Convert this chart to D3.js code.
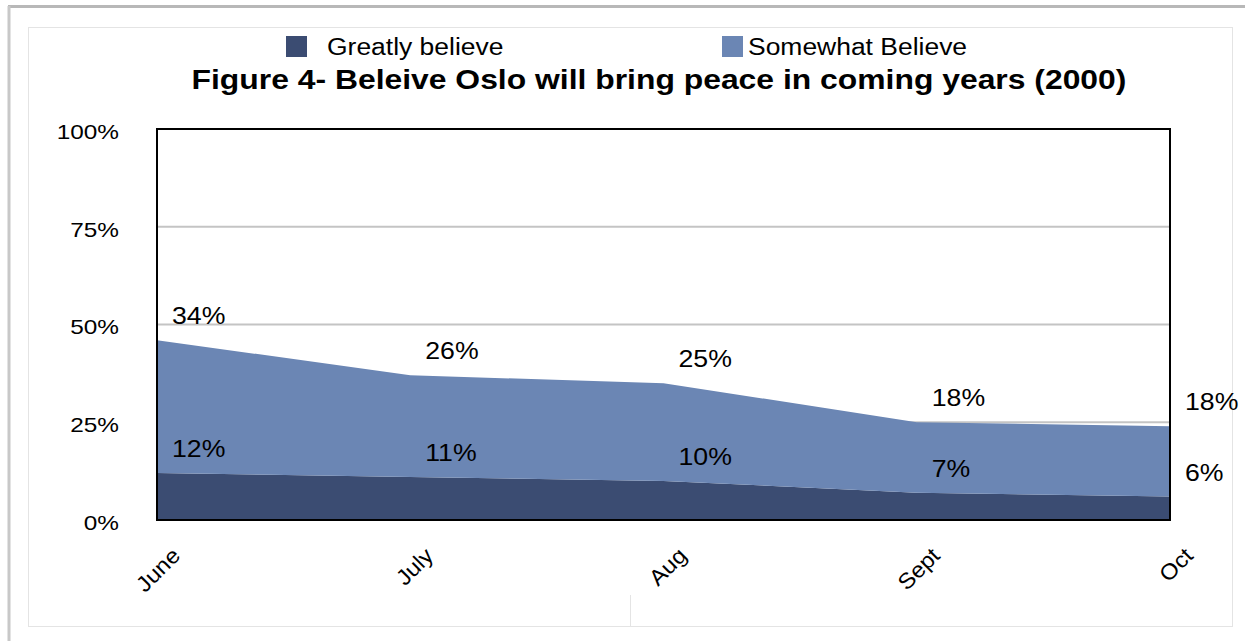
<!DOCTYPE html>
<html>
<head>
<meta charset="utf-8">
<script src="https://cdn.jsdelivr.net/npm/d3@7"></script>
<style>
  body { margin: 0; background: #fff; }
  svg { display: block; font-family: "Liberation Sans", Arial, Helvetica, sans-serif; }
</style>
</head>
<body>
<script>
// data
var months = ["June", "July", "Aug", "Sept", "Oct"];
var greatly = [12, 11, 10, 7, 6];
var somewhat = [34, 26, 25, 18, 18];
var yTicks = [0, 25, 50, 75, 100];
var seriesNames = ["Greatly believe", "Somewhat Believe"];
var colors = ["#3b4c72", "#6b86b4"];

var W = 1245, H = 641;
var svg = d3.select("body").append("svg").attr("width", W).attr("height", H);

// the source picture is a little wider than tall, so stretch text sideways
function stretch(sel, k) {
  sel.each(function() {
    var len = this.getComputedTextLength();
    d3.select(this).attr("textLength", len * k).attr("lengthAdjust", "spacingAndGlyphs");
  });
}

// page frame / shadow
svg.append("line").attr("x1", 8).attr("x2", W).attr("y1", 6.5).attr("y2", 6.5)
  .attr("stroke", "#b8b8b8").attr("stroke-width", 3);
svg.append("line").attr("x1", 9).attr("x2", 9).attr("y1", 6).attr("y2", H)
  .attr("stroke", "#c8c8c8").attr("stroke-width", 3);
svg.append("rect").attr("x", 28.5).attr("y", 27.5).attr("width", 1204).attr("height", 599)
  .attr("fill", "#fff").attr("stroke", "#e4e4e4").attr("stroke-width", 1);
svg.append("line").attr("x1", 630.5).attr("x2", 630.5).attr("y1", 595).attr("y2", 627)
  .attr("stroke", "#e4e4e4");

var plotL = 157, plotR = 1170, plotT = 129, plotB = 520;

var x = d3.scalePoint().domain(months).range([plotL, plotR]);
var y = d3.scaleLinear().domain([0, 100]).range([plotB, plotT]);

var rows = months.map(function(m, i) {
  return { month: m, greatly: greatly[i], somewhat: somewhat[i] };
});
var stack = d3.stack().keys(["greatly", "somewhat"])(rows);

// gridlines
svg.append("g").selectAll("line").data(yTicks.filter(function(t) { return t > 0 && t < 100; }))
  .join("line")
  .attr("x1", plotL).attr("x2", plotR)
  .attr("y1", function(d) { return y(d); }).attr("y2", function(d) { return y(d); })
  .attr("stroke", "#c4c4c4").attr("stroke-width", 2);

// areas
var area = d3.area()
  .x(function(d) { return x(d.data.month); })
  .y0(function(d) { return y(d[0]); })
  .y1(function(d) { return y(d[1]); });

svg.append("g").selectAll("path").data(stack).join("path")
  .attr("d", area)
  .attr("fill", function(d, i) { return colors[i]; });

// plot border
svg.append("rect").attr("x", plotL).attr("y", plotT)
  .attr("width", plotR - plotL).attr("height", plotB - plotT)
  .attr("fill", "none").attr("stroke", "#000").attr("stroke-width", 2);

// y axis labels
var yAxis = d3.axisLeft(y).tickValues(yTicks).tickSize(0).tickPadding(38)
  .tickFormat(function(d) { return d + "%"; });
var gy = svg.append("g").attr("transform", "translate(" + plotL + ",0)").call(yAxis);
gy.select(".domain").remove();
gy.selectAll("text").attr("font-size", 21).attr("fill", "#000")
  .attr("font-family", "Liberation Sans, Arial, sans-serif").attr("dy", "0.45em")
  .call(stretch, 1.16);

// x axis labels
var xAxis = d3.axisBottom(x).tickSize(0).tickPadding(0);
var gx = svg.append("g").attr("transform", "translate(0," + plotB + ")").call(xAxis);
gx.select(".domain").remove();
gx.selectAll("text")
  .attr("font-size", 22).attr("fill", "#000")
  .attr("font-family", "Liberation Sans, Arial, sans-serif")
  .attr("text-anchor", "end")
  .attr("y", 0).attr("dy", 0)
  .attr("transform", "translate(24,37) rotate(-45)")
  .call(stretch, 1.08);

// data labels
stack.forEach(function(layer, li) {
  var vals = li === 0 ? greatly : somewhat;
  svg.append("g").selectAll("text").data(layer).join("text")
    .attr("x", function(d) { return x(d.data.month) + 15; })
    .attr("y", function(d) { return y(d[1]) - 24; })
    .attr("dy", "0.35em")
    .attr("font-size", 23)
    .text(function(d, i) { return vals[i] + "%"; })
    .call(stretch, 1.16);
});

// title
svg.append("text").attr("x", 659).attr("y", 80).attr("dy", "0.35em")
  .attr("text-anchor", "middle").attr("font-size", 27).attr("font-weight", "bold")
  .text("Figure 4- Beleive Oslo will bring peace in coming years (2000)")
  .call(stretch, 1.18);

// legend
var legendX = [286, 722];
var lg = svg.append("g").selectAll("g").data(seriesNames).join("g")
  .attr("transform", function(d, i) { return "translate(" + legendX[i] + ",36)"; });
lg.append("rect").attr("width", 21).attr("height", 21)
  .attr("fill", function(d, i) { return colors[i]; });
lg.append("text").attr("x", function(d, i) { return i === 0 ? 41 : 26; }).attr("y", 10.5).attr("dy", "0.35em")
  .attr("font-size", 23).text(function(d) { return d; })
  .call(stretch, 1.15);
</script>
</body>
</html>
